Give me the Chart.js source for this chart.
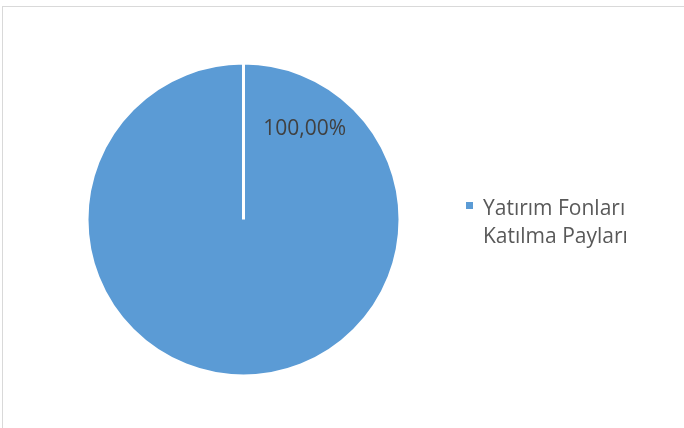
<!DOCTYPE html>
<html>
<head>
<meta charset="utf-8">
<script src="https://cdn.jsdelivr.net/npm/chart.js@4"></script>
<style>
html,body{margin:0;padding:0;background:#fff;overflow:hidden;}
#wrap{position:relative;width:684px;height:428px;}
#frame{position:absolute;left:2px;top:6px;width:720px;height:460px;border:1px solid #d9d9d9;box-sizing:border-box;}
#chart{position:absolute;left:0;top:0;}
</style>
</head>
<body>
<div id="wrap">
  <div id="frame"></div>
  <canvas id="chart" width="684" height="428"></canvas>
</div>
<script>
// data
const categories = [['Yatırım Fonları', 'Katılma Payları']];
const shares = [100];
const sliceColors = ['#5b9bd5'];

const FONT = '"Open Sans", sans-serif';

function pctText(v, total){
    return (v / total * 100).toFixed(2).replace('.', ',') + '%';
}

// percentage label inside the slice, placed like Excel does for a lone slice
const dataLabels = {
    id: 'dataLabels',
    afterDatasetsDraw(chart){
        const ctx = chart.ctx;
        const meta = chart.getDatasetMeta(0);
        const vals = chart.data.datasets[0].data;
        const total = vals.reduce((a, b) => a + b, 0);
        meta.data.forEach((arc, i) => {
            const ang = -56 * Math.PI / 180;
            const r = arc.outerRadius * 0.7;
            const x = arc.x + r * Math.cos(ang);
            const y = arc.y + r * Math.sin(ang);
            ctx.save();
            ctx.font = '21px ' + FONT;
            ctx.fillStyle = '#404040';
            ctx.textAlign = 'center';
            ctx.textBaseline = 'middle';
            ctx.fillText(pctText(vals[i], total), x, y);
            ctx.restore();
        });
    }
};

// legend on the right, square marker + wrapped label
const sideLegend = {
    id: 'sideLegend',
    afterDraw(chart){
        const ctx = chart.ctx;
        const ds = chart.data.datasets[0];
        let y = 215;
        chart.data.labels.forEach((lab, i) => {
            const lines = Array.isArray(lab) ? lab : [lab];
            ctx.save();
            ctx.fillStyle = ds.backgroundColor[i];
            ctx.fillRect(466, y - 13, 7, 7);
            ctx.font = '21px ' + FONT;
            ctx.fillStyle = '#595959';
            ctx.textBaseline = 'alphabetic';
            lines.forEach((t, k) => ctx.fillText(t, 483, y + k * 28));
            ctx.restore();
            y += lines.length * 28 + 10;
        });
    }
};

new Chart(document.getElementById('chart'), {
    type: 'pie',
    data: {
        labels: categories,
        datasets: [{
            data: shares,
            backgroundColor: sliceColors,
            borderColor: '#ffffff',
            borderWidth: 3
        }]
    },
    options: {
        responsive: false,
        animation: false,
        radius: 156.5,
        layout: {padding: {left: 0, right: 197, top: 11, bottom: 0}},
        plugins: {
            legend: {display: false},
            tooltip: {enabled: false}
        }
    },
    plugins: [dataLabels, sideLegend]
});
</script>
</body>
</html>
